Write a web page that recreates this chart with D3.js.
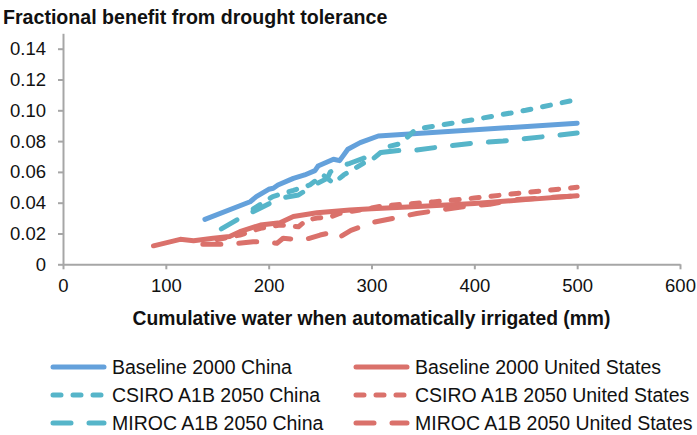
<!DOCTYPE html>
<meta charset="utf-8">

<script src="https://d3js.org/d3.v7.min.js"></script>

<style type="text/css">
  body { margin: 0; background: #fff; }
  text { font-family: "Liberation Sans", Arial, Helvetica, sans-serif; fill: #111; }
  .axis path, .axis line { stroke: #a6a6a6; stroke-width: 2; }
  .axis text { font-size: 18.5px; }
</style>

<body>
</body>

<script>

// x: cumulative water (mm), y: fractional benefit
var baselineChina = [[138,0.0292],[182,0.0406],[188,0.0439],[200,0.0487],[204.5,0.0494],[209,0.0515],
  [224,0.0558],[235,0.058],[245,0.0608],[248,0.0638],[263,0.0682],[269,0.0673],[277,0.0747],
  [289,0.079],[306.6,0.0833],[500,0.0916]];

var csiroChina = [[185,0.036],[204,0.044],[224,0.048],[240,0.0515],[253,0.058],[263,0.0526],
  [273,0.058],[292,0.0656],[302,0.0688],[316,0.0764],[326,0.078],[334,0.082],[342,0.087],
  [346,0.088],[400,0.094],[450,0.1],[500,0.107]];

var mirocChina = [[154,0.023],[172,0.03],[191.6,0.0364],[211,0.0429],[229,0.045],[244,0.0515],
  [257,0.0558],[260,0.06],[269,0.0634],[279,0.0656],[292,0.0688],[302,0.072],[308,0.0725],
  [324,0.0738],[344,0.0742],[373,0.0768],[405,0.079],[428,0.08],[500,0.0852]];

var baselineUS = [[88,0.012],[114,0.0162],[127,0.0153],[146,0.0169],[162,0.018],[172,0.0212],
  [192,0.0255],[211,0.027],[224,0.031],[247,0.0335],[279,0.0352],[300,0.036],[345,0.0375],
  [400,0.0395],[450,0.042],[500,0.0445]];

var csiroUS = [[150,0.016],[172,0.019],[192,0.0234],[211,0.0255],[229,0.0244],[237,0.0288],
  [247,0.03],[261,0.031],[269,0.033],[279,0.0342],[311,0.0379],[360,0.0405],[400,0.043],
  [441,0.046],[500,0.05]];

var mirocUS = [[136,0.013],[152,0.013],[162,0.013],[185,0.0147],[198,0.0147],[208,0.0136],
  [214,0.0169],[234,0.0158],[250,0.019],[260,0.0205],[268,0.0172],[280,0.022],[300,0.027],
  [344,0.033],[389,0.0374],[415,0.039],[440,0.042],[500,0.0445]];

var xTicks = [0, 100, 200, 300, 400, 500, 600];
var yTicks = [0, 0.02, 0.04, 0.06, 0.08, 0.10, 0.12, 0.14];

var blue = "#64a1db", teal = "#56b5c9", red = "#da716b";
var solid = null, shortDash = "8,12", longDash = "18,18";

var series = [
  {name: "Baseline 2000 China", data: baselineChina, color: blue, dash: solid},
  {name: "CSIRO A1B 2050 China", data: csiroChina, color: teal, dash: shortDash},
  {name: "MIROC A1B 2050 China", data: mirocChina, color: teal, dash: longDash},
  {name: "Baseline 2000 United States", data: baselineUS, color: red, dash: solid},
  {name: "CSIRO A1B 2050 United States", data: csiroUS, color: red, dash: shortDash},
  {name: "MIROC A1B 2050 United States", data: mirocUS, color: red, dash: longDash}
];

var width = 697, height = 435;

var svg = d3.select("body").append("svg")
    .attr("width", width)
    .attr("height", height);

var x = d3.scaleLinear().domain([0, 600]).range([63, 680]);
var y = d3.scaleLinear().domain([0, 0.15]).range([264.3, 33.3]);

svg.append("text")
    .attr("x", 3)
    .attr("y", 24)
    .style("font-size", "19.6px")
    .style("font-weight", "bold")
    .text("Fractional benefit from drought tolerance");

svg.append("g")
    .attr("class", "axis")
    .attr("transform", "translate(63,0)")
    .call(d3.axisLeft(y).tickValues(yTicks).tickSize(5).tickSizeOuter(0).tickPadding(12)
      .tickFormat(function(d) { return d === 0 ? "0" : d3.format(".2f")(d); }))
    .call(function(g) { g.selectAll("text").attr("fill", "#111"); });

svg.append("g")
    .attr("class", "axis")
    .attr("transform", "translate(0,264.3)")
    .call(d3.axisBottom(x).tickValues(xTicks).tickSize(5).tickSizeOuter(0).tickPadding(10))
    .call(function(g) { g.selectAll("text").attr("fill", "#111"); });

svg.append("text")
    .attr("x", 371.5)
    .attr("y", 325)
    .attr("text-anchor", "middle")
    .style("font-size", "19.3px")
    .style("font-weight", "bold")
    .text("Cumulative water when automatically irrigated (mm)");

var line = d3.line()
    .x(function(d) { return x(d[0]); })
    .y(function(d) { return y(d[1]); });

// draw US first so China sits on top
var drawOrder = [3, 4, 5, 0, 1, 2];
svg.append("g").selectAll("path")
    .data(drawOrder.map(function(i) { return series[i]; }))
  .enter().append("path")
    .attr("d", function(d) { return line(d.data); })
    .attr("fill", "none")
    .attr("stroke", function(d) { return d.color; })
    .attr("stroke-width", 5)
    .attr("stroke-linecap", "round")
    .attr("stroke-linejoin", "round")
    .attr("stroke-dasharray", function(d) { return d.dash; });

var legend = svg.append("g").selectAll("g")
    .data(series)
  .enter().append("g")
    .attr("transform", function(d, i) {
      var col = Math.floor(i / 3), row = i % 3;
      return "translate(" + (col ? 356 : 53) + "," + (367 + row * 28) + ")";
    });

legend.append("line")
    .attr("x1", 0).attr("x2", 51)
    .attr("stroke", function(d) { return d.color; })
    .attr("stroke-width", 5)
    .attr("stroke-linecap", "round")
    .attr("stroke-dasharray", function(d) { return d.dash; });

legend.append("text")
    .attr("x", 59)
    .attr("y", 6.5)
    .style("font-size", "19.5px")
    .text(function(d) { return d.name; });

</script>
